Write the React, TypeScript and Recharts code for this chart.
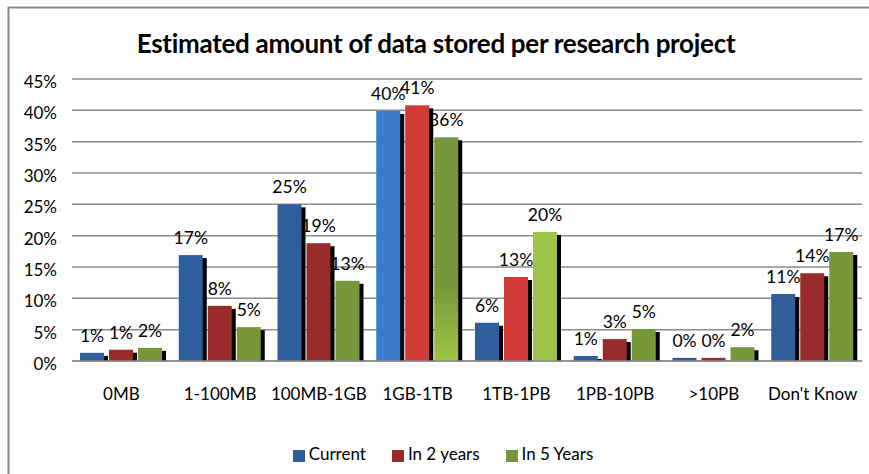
import { Bar, BarChart, CartesianGrid, Cell, LabelList, Legend, XAxis, YAxis } from 'recharts';

const categories = ['0MB', '1-100MB', '100MB-1GB', '1GB-1TB', '1TB-1PB', '1PB-10PB', '>10PB', "Don't Know"];
const currentValues = [1.3, 16.9, 25.0, 39.9, 6.1, 0.8, 0.5, 10.7];
const twoYearValues = [1.8, 8.8, 18.8, 40.8, 13.4, 3.5, 0.5, 14.0];
const fiveYearValues = [2.1, 5.4, 12.8, 35.7, 20.6, 5.1, 2.2, 17.4];
const currentLabels = ['1%', '17%', '25%', '40%', '6%', '1%', '0%', '11%'];
const twoYearLabels = ['1%', '8%', '19%', '41%', '13%', '3%', '0%', '14%'];
const fiveYearLabels = ['2%', '5%', '13%', '36%', '20%', '5%', '2%', '17%'];
const yTicks = [0, 5, 10, 15, 20, 25, 30, 35, 40, 45];

const BLUE = '#2E5E9B';
const RED = '#9A2B2B';
const GREEN = '#78963A';
const blueFills = categories.map((_, i) => (i === 3 ? '#3A7CCB' : BLUE));
const redFills = categories.map((_, i) => (i === 3 || i === 4 ? '#CF3A37' : RED));
const greenFills = categories.map((_, i) => (i === 3 ? 'url(#greenFade)' : i === 4 ? '#9CC548' : GREEN));

const data = categories.map((name, i) => ({
  name,
  current: currentValues[i],
  twoYears: twoYearValues[i],
  fiveYears: fiveYearValues[i],
  currentLabel: currentLabels[i],
  twoYearLabel: twoYearLabels[i],
  fiveYearLabel: fiveYearLabels[i],
}));

const FONT = 'Lato, "Noto Sans", sans-serif';

// bar with a black drop shadow on its right side
function ShadowBar(props: any) {
  const { x, y, width, height, fill } = props;
  if (!height || height <= 0) return null;
  return (
    <g>
      {height > 3 && <rect x={x + 4} y={y + 3} width={width} height={height - 3} fill="#000" />}
      <rect x={x} y={y} width={width} height={height} fill={fill} />
    </g>
  );
}

const series = [
  { key: 'current', label: 'currentLabel', name: 'Current', color: BLUE, fills: blueFills },
  { key: 'twoYears', label: 'twoYearLabel', name: 'In 2 years', color: RED, fills: redFills },
  { key: 'fiveYears', label: 'fiveYearLabel', name: 'In 5 Years', color: GREEN, fills: greenFills },
];

export default function App() {
  return (
    <div style={{ position: 'absolute', left: 0, top: 0, width: 869, height: 474, background: '#fff', overflow: 'hidden', fontFamily: FONT }}>
      <svg width={869} height={474} style={{ position: 'absolute', left: 0, top: 0 }}>
        <path d="M8.5 474 L8.5 7.5 L869 7.5" fill="none" stroke="#8a8a8a" strokeWidth={2} />
      </svg>
      <div
        style={{
          position: 'absolute',
          left: 0,
          width: 872,
          top: 27,
          textAlign: 'center',
          fontSize: 26,
          fontWeight: 700,
          color: '#000',
          letterSpacing: -0.3,
        }}
      >
        Estimated amount of data stored per research project
      </div>
      <BarChart
        width={869}
        height={474}
        data={data}
        margin={{ top: 79, right: 7, bottom: 52, left: 8 }}
        barSize={24}
        barGap={5}
        style={{ position: 'absolute', left: 0, top: 0 }}
      >
        <defs>
          <linearGradient id="greenFade" x1="0" y1="0" x2="0" y2="1">
            <stop offset="0" stopColor="#77953A" />
            <stop offset="0.65" stopColor="#77953A" />
            <stop offset="1" stopColor="#9DC447" />
          </linearGradient>
        </defs>
        <CartesianGrid vertical={false} stroke="#8c8c8c" strokeWidth={1.5} />
        <XAxis
          dataKey="name"
          axisLine={{ stroke: '#8c8c8c', strokeWidth: 1.5 }}
          tickLine={false}
          tickMargin={21}
          height={40}
          tick={{ fontSize: 17, fill: '#000', fontFamily: FONT }}
          interval={0}
        />
        <YAxis
          width={64}
          domain={[0, 45]}
          ticks={yTicks}
          tickFormatter={(v) => `${v}%`}
          axisLine={false}
          tickLine={false}
          tickSize={0}
          tickMargin={15}
          tick={{ fontSize: 17, fill: '#000', fontFamily: FONT, dy: 3 }}
        />
        <Legend
          verticalAlign="bottom"
          iconType="square"
          iconSize={12}
          wrapperStyle={{ fontSize: 17, fontFamily: FONT, bottom: 10, left: 29 }}
          formatter={(value) => <span style={{ color: '#000', marginRight: 16 }}>{value}</span>}
        />
        {series.map((s) => (
          <Bar key={s.key} dataKey={s.key} name={s.name} fill={s.color} shape={<ShadowBar />} isAnimationActive={false}>
            {data.map((_, i) => (
              <Cell key={i} fill={s.fills[i]} />
            ))}
            <LabelList dataKey={s.label} position="top" offset={11} style={{ fontSize: 17.5, fill: '#000', fontFamily: FONT }} />
          </Bar>
        ))}
      </BarChart>
    </div>
  );
}
